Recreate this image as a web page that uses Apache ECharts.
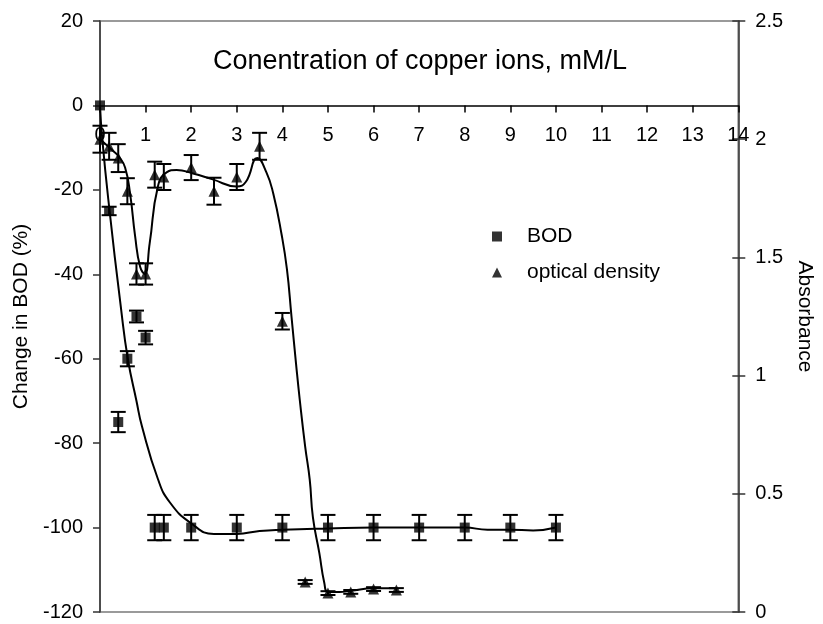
<!DOCTYPE html>
<html>
<head>
<meta charset="utf-8">
<script src="https://cdn.jsdelivr.net/npm/echarts@6/dist/echarts.min.js"></script>
<style>
  html, body { margin: 0; padding: 0; background: #fff; }
  #chart { width: 823px; height: 624px; }
</style>
</head>
<body>
<div id="chart"></div>
<script>
// Measured BOD change (%) with error half-widths
const bodX   = [0, 0.2, 0.4, 0.6, 0.8, 1.0, 1.2, 1.4, 2, 3, 4, 5, 6, 7, 8, 9, 10];
const bodY   = [0, -25, -75, -60, -50, -55, -100, -100, -100, -100, -100, -100, -100, -100, -100, -100, -100];
const bodErr = [0, 1, 2.4, 1.8, 1.4, 1.6, 3, 3, 3, 3, 3, 3, 3, 3, 3, 3, 3];

// Measured optical density (absorbance) with error half-widths
const odX   = [0, 0.2, 0.4, 0.6, 0.8, 1.0, 1.2, 1.4, 2, 2.5, 3, 3.5, 4, 4.5, 5, 5.5, 6, 6.5];
const odY   = [2.0, 1.97, 1.92, 1.78, 1.43, 1.43, 1.85, 1.84, 1.88, 1.78, 1.84, 1.97, 1.23, 0.127, 0.08, 0.085, 0.097, 0.093];
const odErr = [0.057, 0.057, 0.059, 0.055, 0.045, 0.045, 0.055, 0.055, 0.053, 0.057, 0.055, 0.057, 0.035, 0.008, 0.008, 0.008, 0.008, 0.008];

// Smoothed trend of BOD change
const bodTrendX = [0, 0.05, 0.2, 0.46, 0.61, 0.8, 0.92, 1.27, 1.53, 2, 2.5, 3, 3.5, 4, 5, 6, 7, 8, 8.5, 9, 9.5, 10];
const bodTrendY = [0, -8, -24, -48, -60, -70, -76, -88.5, -94, -99, -101.5, -101.5, -100.8, -100.5, -100.2, -100, -100, -100, -100.5, -100.5, -100.7, -100];

// Smoothed trend of optical density
const odTrendX = [0, 0.29, 0.42, 0.55, 0.66, 0.77, 0.88, 0.98, 1.09, 1.27, 1.46, 1.68, 2.04, 2.47, 3.0, 3.2, 3.45, 3.65, 3.8, 3.98, 4.1, 4.2, 4.3, 4.38, 4.5, 4.6, 4.67, 4.81, 4.92, 5.0, 5.25, 5.5, 6, 6.5];
const odTrendY = [2.0, 1.95, 1.925, 1.88, 1.77, 1.59, 1.46, 1.43, 1.56, 1.80, 1.86, 1.87, 1.855, 1.83, 1.80, 1.82, 1.92, 1.86, 1.77, 1.60, 1.45, 1.25, 1.05, 0.90, 0.70, 0.56, 0.40, 0.25, 0.123, 0.085, 0.085, 0.09, 0.1, 0.1];

// Axis settings
const xMin = 0, xMax = 14, xStep = 1;
const bodMin = -120, bodMax = 20, bodStep = 20;
const absMin = 0, absMax = 2.5, absStep = 0.5;

const FONT = '"Liberation Sans", Arial, sans-serif';

// Plot box
const GRID = { left: 100, right: 83, top: 21, bottom: 12 };
const CHART_H = 624;
const plotH = CHART_H - GRID.top - GRID.bottom;
// The concentration axis sits on the BOD zero line: shift it up from the grid bottom
const zeroShift = plotH * (0 - bodMin) / (bodMax - bodMin);

function pairs(xs, ys) { return xs.map((x, i) => [x, ys[i]]); }
function errRows(xs, ys, es) { return xs.map((x, i) => [x, ys[i] - es[i], ys[i] + es[i]]); }

function renderErr(params, api) {
  const x = api.value(0), lo = api.value(1), hi = api.value(2);
  if (hi === lo) return null;
  const top = api.coord([x, hi]);
  const bot = api.coord([x, lo]);
  const cap = 7.5;
  const style = { stroke: '#000', lineWidth: 2 };
  return {
    type: 'group',
    children: [
      { type: 'line', shape: { x1: top[0], y1: top[1], x2: bot[0], y2: bot[1] }, style },
      { type: 'line', shape: { x1: top[0] - cap, y1: top[1], x2: top[0] + cap, y2: top[1] }, style },
      { type: 'line', shape: { x1: bot[0] - cap, y1: bot[1], x2: bot[0] + cap, y2: bot[1] }, style }
    ]
  };
}

const chart = echarts.init(document.getElementById('chart'), null, { renderer: 'canvas' });

chart.setOption({
  animation: false,
  backgroundColor: '#fff',
  textStyle: { fontFamily: FONT, color: '#000' },
  grid: Object.assign({
    show: true, borderColor: '#9a9a9a', borderWidth: 2, backgroundColor: 'transparent'
  }, GRID),
  graphic: [{
    type: 'text',
    x: 420, y: 62,
    style: {
      text: 'Conentration of copper ions, mM/L',
      font: '27px ' + FONT,
      fill: '#000',
      align: 'center',
      verticalAlign: 'middle'
    }
  }],
  legend: {
    orient: 'vertical',
    left: 487, top: 221,
    itemWidth: 10, itemHeight: 10,
    itemGap: 15,
    data: [
      { name: 'BOD', icon: 'rect' },
      { name: 'optical density', icon: 'triangle' }
    ],
    textStyle: { fontFamily: FONT, fontSize: 21, color: '#000', padding: [0, 0, 0, 20] }
  },
  xAxis: {
    type: 'value',
    min: xMin, max: xMax, interval: xStep,
    offset: -zeroShift,
    axisLine: { show: true, onZero: false, lineStyle: { color: '#000', width: 1.5 } },
    axisTick: { show: true, length: 7, lineStyle: { color: '#000', width: 1.5 } },
    axisLabel: { fontFamily: FONT, fontSize: 20, color: '#000', margin: 20 },
    splitLine: { show: false }
  },
  yAxis: [
    {
      type: 'value',
      position: 'left',
      min: bodMin, max: bodMax, interval: bodStep,
      name: 'Change in BOD (%)',
      nameLocation: 'middle',
      nameGap: 66,
      nameRotate: 90,
      nameTextStyle: { fontFamily: FONT, fontSize: 21, color: '#000' },
      axisLine: { show: true, onZero: false, lineStyle: { color: '#333', width: 1.5 } },
      axisTick: { show: true, length: 7, lineStyle: { color: '#333', width: 1.5 } },
      axisLabel: { fontFamily: FONT, fontSize: 20, color: '#000', margin: 17 },
      splitLine: { show: false }
    },
    {
      type: 'value',
      position: 'right',
      min: absMin, max: absMax, interval: absStep,
      name: 'Absorbance',
      nameLocation: 'middle',
      nameGap: 48,
      nameRotate: -90,
      nameTextStyle: { fontFamily: FONT, fontSize: 21, color: '#000' },
      axisLine: { show: true, onZero: false, lineStyle: { color: '#333', width: 1.5 } },
      axisTick: { show: true, length: 7, lineStyle: { color: '#333', width: 1.5 } },
      axisLabel: { fontFamily: FONT, fontSize: 20, color: '#000', margin: 17 },
      splitLine: { show: false }
    },
    {
      // inner half of the crossing ticks on the absorbance axis
      type: 'value',
      position: 'right',
      min: absMin, max: absMax, interval: absStep,
      axisLine: { show: false, onZero: false },
      axisTick: { show: true, inside: true, length: 6, lineStyle: { color: '#333', width: 1.5 } },
      axisLabel: { show: false },
      splitLine: { show: false }
    }
  ],
  series: [
    {
      name: 'BOD trend', type: 'line', yAxisIndex: 0,
      data: pairs(bodTrendX, bodTrendY),
      smooth: 0.5,
      symbol: 'none',
      lineStyle: { color: '#000', width: 2 },
      z: 2, silent: true
    },
    {
      name: 'optical density trend', type: 'line', yAxisIndex: 1,
      data: pairs(odTrendX, odTrendY),
      smooth: 0.5,
      symbol: 'none',
      lineStyle: { color: '#000', width: 2 },
      z: 2, silent: true
    },
    {
      name: 'BOD error', type: 'custom', yAxisIndex: 0,
      renderItem: renderErr,
      data: errRows(bodX, bodY, bodErr),
      encode: { x: 0, y: [1, 2] },
      z: 3, silent: true
    },
    {
      name: 'optical density error', type: 'custom', yAxisIndex: 1,
      renderItem: renderErr,
      data: errRows(odX, odY, odErr),
      encode: { x: 0, y: [1, 2] },
      z: 3, silent: true
    },
    {
      name: 'BOD', type: 'scatter', yAxisIndex: 0,
      data: pairs(bodX, bodY),
      symbol: 'rect', symbolSize: 10,
      itemStyle: { color: '#000' },
      z: 4
    },
    {
      name: 'optical density', type: 'scatter', yAxisIndex: 1,
      data: pairs(odX, odY),
      symbol: 'triangle', symbolSize: [11, 11],
      itemStyle: { color: '#000' },
      z: 4
    }
  ]
});
</script>
</body>
</html>
